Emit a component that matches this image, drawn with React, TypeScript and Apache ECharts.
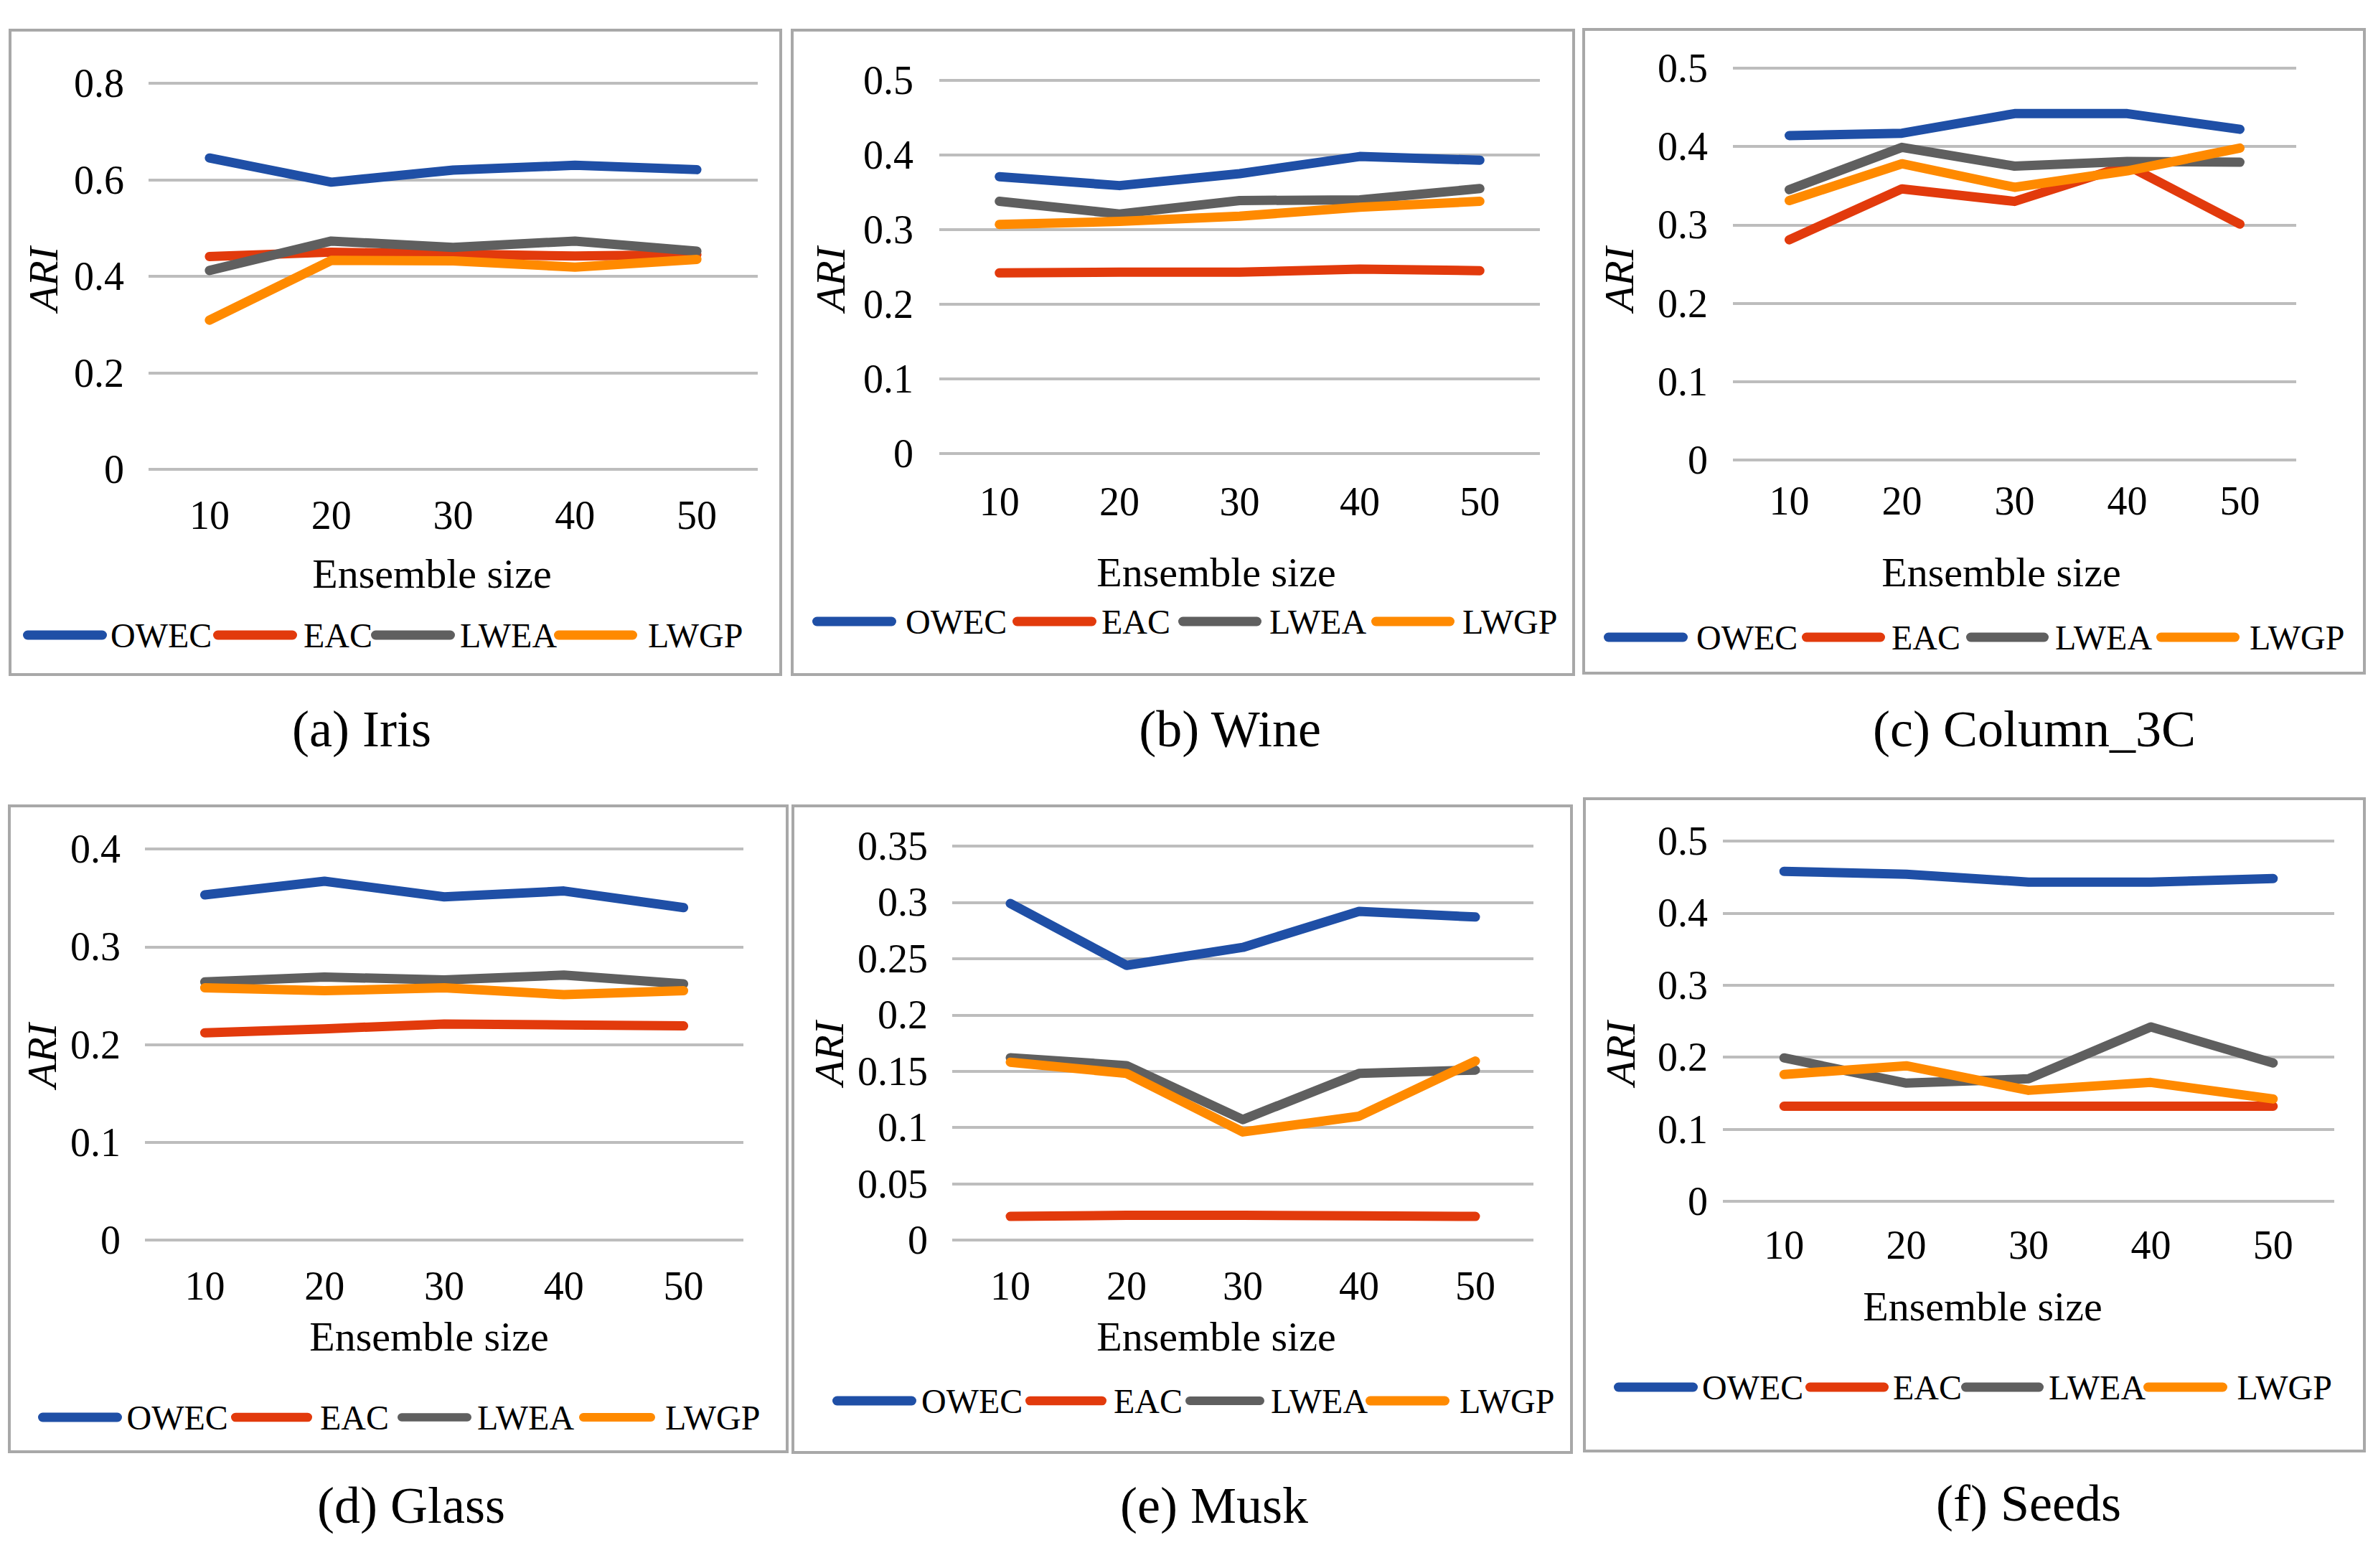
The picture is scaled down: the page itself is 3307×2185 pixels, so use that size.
import React, { useEffect, useRef } from "react";
import * as echarts from "echarts";

const FONT = "'Liberation Serif', 'Times New Roman', Times, serif";

// ---------- data ----------
const ensembleSizes = ["10", "20", "30", "40", "50"];
const methodNames = ["OWEC", "EAC", "LWEA", "LWGP"];
const methodColors = ["#1f4fa6", "#e23a0c", "#5f5f5f", "#ff8a00"];

// rows: OWEC, EAC, LWEA, LWGP
const irisARI = [
  [0.645, 0.595, 0.62, 0.63, 0.621],
  [0.441, 0.45, 0.446, 0.442, 0.445],
  [0.412, 0.473, 0.46, 0.473, 0.452],
  [0.309, 0.433, 0.432, 0.419, 0.435],
];
const wineARI = [
  [0.371, 0.359, 0.375, 0.398, 0.393],
  [0.242, 0.243, 0.243, 0.247, 0.245],
  [0.338, 0.321, 0.339, 0.34, 0.355],
  [0.307, 0.311, 0.318, 0.33, 0.338],
];
const column3cARI = [
  [0.414, 0.417, 0.442, 0.442, 0.422],
  [0.281, 0.346, 0.33, 0.376, 0.301],
  [0.345, 0.399, 0.375, 0.381, 0.38],
  [0.331, 0.378, 0.348, 0.369, 0.398],
];
const glassARI = [
  [0.353, 0.367, 0.351, 0.357, 0.34],
  [0.212, 0.216, 0.221, 0.22, 0.219],
  [0.264, 0.269, 0.266, 0.271, 0.262],
  [0.258, 0.255, 0.258, 0.251, 0.255],
];
const muskARI = [
  [0.299, 0.244, 0.26, 0.292, 0.287],
  [0.021, 0.022, 0.022, 0.0215, 0.021],
  [0.162, 0.155, 0.107, 0.148, 0.151],
  [0.158, 0.148, 0.096, 0.11, 0.159],
];
const seedsARI = [
  [0.458, 0.454, 0.443, 0.443, 0.448],
  [0.132, 0.132, 0.132, 0.132, 0.132],
  [0.199, 0.164, 0.17, 0.242, 0.192],
  [0.176, 0.188, 0.154, 0.165, 0.142],
];

const captions = ["(a) Iris", "(b) Wine", "(c) Column_3C", "(d) Glass", "(e) Musk", "(f) Seeds"];
const panelValues = [irisARI, wineARI, column3cARI, glassARI, muskARI, seedsARI];
const yMaxes = [0.8, 0.5, 0.5, 0.4, 0.35, 0.5];
const yIntervals = [0.2, 0.1, 0.1, 0.1, 0.05, 0.1];

// ---------- layout (pixels) ----------
const layouts = [
  {
    box: [14, 42, 1088, 940], grid: [207, 116, 1056, 654], ym: 34, xm: 36,
    xTitle: [602, 799], ari: [60, 389], legendY: 885, caption: [504, 1016],
    legend: [[32, 149, 154], [297, 414, 423], [517, 634, 641], [772, 888, 903]],
  },
  {
    box: [1104, 42, 2193, 940], grid: [1309, 112, 2146, 632], ym: 36, xm: 39,
    xTitle: [1695, 797], ari: [1157, 389], legendY: 866, caption: [1714, 1016],
    legend: [[1132, 1251, 1263], [1411, 1528, 1535], [1642, 1758, 1769], [1911, 2027, 2038]],
  },
  {
    box: [2207, 41, 3295, 938], grid: [2415, 95, 3200, 641], ym: 35, xm: 29,
    xTitle: [2789, 797], ari: [2256, 389], legendY: 888, caption: [2835, 1016],
    legend: [[2235, 2352, 2364], [2511, 2627, 2636], [2740, 2855, 2864], [3005, 3121, 3135]],
  },
  {
    box: [13, 1123, 1097, 2023], grid: [202, 1183, 1036, 1728], ym: 34, xm: 36,
    xTitle: [598, 1862], ari: [58, 1471], legendY: 1975, caption: [573, 2098],
    legend: [[53, 173, 178], [322, 435, 446], [554, 657, 665], [807, 913, 927]],
  },
  {
    box: [1105, 1123, 2190, 2024], grid: [1327, 1179, 2137, 1728], ym: 34, xm: 36,
    xTitle: [1695, 1862], ari: [1155, 1468], legendY: 1952, caption: [1692, 2098],
    legend: [[1160, 1277, 1284], [1429, 1542, 1552], [1652, 1762, 1771], [1903, 2020, 2034]],
  },
  {
    box: [2208, 1113, 3295, 2022], grid: [2401, 1172, 3253, 1674], ym: 21, xm: 33,
    xTitle: [2763, 1820], ari: [2258, 1468], legendY: 1933, caption: [2827, 2095],
    legend: [[2249, 2368, 2373], [2516, 2632, 2638], [2733, 2848, 2855], [2987, 3105, 3118]],
  },
];

const CAPSULE = "path://M6.5,0 L110.5,0 A6.5,6.5 0 0 1 110.5,13 L6.5,13 A6.5,6.5 0 0 1 6.5,0 Z";

function buildOption() {
  const grid: any[] = [];
  const xAxis: any[] = [];
  const yAxis: any[] = [];
  const series: any[] = [];
  const legend: any[] = [];
  const graphic: any[] = [];

  panelValues.forEach((values, i) => {
    const L = layouts[i];
    grid.push({
      left: L.grid[0],
      top: L.grid[1],
      width: L.grid[2] - L.grid[0],
      height: L.grid[3] - L.grid[1],
      containLabel: false,
    });
    xAxis.push({
      type: "category",
      gridIndex: i,
      data: ensembleSizes,
      boundaryGap: true,
      axisLine: { show: false },
      axisTick: { show: false },
      splitLine: { show: false },
      axisLabel: { margin: L.xm, fontSize: 56, fontFamily: FONT, color: "#000" },
    });
    yAxis.push({
      type: "value",
      gridIndex: i,
      min: 0,
      max: yMaxes[i],
      interval: yIntervals[i],
      axisLine: { show: false },
      axisTick: { show: false },
      axisLabel: {
        margin: L.ym,
        fontSize: 56,
        fontFamily: FONT,
        color: "#000",
        formatter: (v: number) => String(Number(v.toFixed(2))),
      },
      splitLine: { show: true, lineStyle: { color: "#bdbdbd", width: 4 } },
    });
    values.forEach((vals, j) => {
      series.push({
        type: "line",
        name: methodNames[j],
        xAxisIndex: i,
        yAxisIndex: i,
        data: vals,
        symbol: "none",
        showSymbol: false,
        clip: false,
        lineStyle: { color: methodColors[j], width: 13, cap: "round", join: "round" },
        itemStyle: { color: methodColors[j] },
        z: 3 + j,
      });
    });
    L.legend.forEach((it, j) => {
      legend.push({
        data: [{ name: methodNames[j], icon: CAPSULE, itemStyle: { color: methodColors[j] } }],
        left: it[0],
        top: L.legendY - 24,
        padding: 0,
        itemWidth: it[1] - it[0],
        itemHeight: 13,
        selectedMode: false,
        textStyle: {
          fontSize: 48,
          lineHeight: 48,
          fontFamily: FONT,
          color: "#000",
          padding: [0, 0, 0, Math.max(0, it[2] - it[1] - 5)],
        },
      });
    });
    graphic.push({
      type: "rect",
      silent: true,
      shape: { x: L.box[0], y: L.box[1], width: L.box[2] - L.box[0], height: L.box[3] - L.box[1] },
      style: { fill: "none", stroke: "#a8a8a8", lineWidth: 4 },
      z: 0,
    });
    graphic.push({
      type: "text",
      silent: true,
      x: L.xTitle[0],
      y: L.xTitle[1],
      style: {
        text: "Ensemble size",
        fontSize: 58,
        fontFamily: FONT,
        fill: "#000",
        align: "center",
        verticalAlign: "middle",
      },
    });
    graphic.push({
      type: "text",
      silent: true,
      x: L.ari[0],
      y: L.ari[1],
      rotation: Math.PI / 2,
      style: {
        text: "ARI",
        fontSize: 58,
        fontStyle: "italic",
        fontFamily: FONT,
        fill: "#000",
        align: "center",
        verticalAlign: "middle",
      },
    });
    graphic.push({
      type: "text",
      silent: true,
      x: L.caption[0],
      y: L.caption[1],
      style: {
        text: captions[i],
        fontSize: 72,
        fontFamily: FONT,
        fill: "#000",
        align: "center",
        verticalAlign: "middle",
      },
    });
  });

  return {
    animation: false,
    backgroundColor: "#ffffff",
    grid,
    xAxis,
    yAxis,
    series,
    legend,
    graphic,
  };
}

export default function App() {
  const ref = useRef<HTMLDivElement>(null);
  useEffect(() => {
    if (!ref.current) return;
    const chart = echarts.init(ref.current, undefined, { renderer: "svg" });
    chart.setOption(buildOption() as any);
    return () => chart.dispose();
  }, []);
  return (
    <div
      ref={ref}
      style={{ position: "absolute", left: 0, top: 0, width: 3307, height: 2185, background: "#fff" }}
    />
  );
}
